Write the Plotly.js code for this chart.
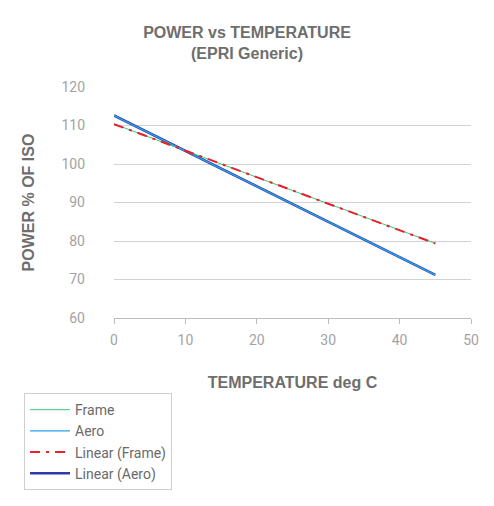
<!DOCTYPE html>
<html><head><meta charset="utf-8">
<script src="https://cdn.plot.ly/plotly-3.0.1.min.js"></script>
<style>html,body{margin:0;padding:0;background:#fff}#chart{width:494px;height:506px}</style>
</head><body><div id="chart"></div>
<script>
const temps = [0, 5, 10, 15, 20, 25, 30, 35, 40, 45];
const frame = [110.4, 106.9, 103.5, 100.0, 96.6, 93.1, 89.7, 86.2, 82.8, 79.4];
const aero  = [112.6, 108.0, 103.4, 98.8, 94.2, 89.6, 85.0, 80.4, 75.8, 71.2];
const seriesNames = ['Frame', 'Aero', 'Linear (Frame)', 'Linear (Aero)'];

function linfit(x, y) {
  const n = x.length;
  const mx = x.reduce((a, b) => a + b, 0) / n;
  const my = y.reduce((a, b) => a + b, 0) / n;
  let sxy = 0, sxx = 0;
  for (let i = 0; i < n; i++) { sxy += (x[i] - mx) * (y[i] - my); sxx += (x[i] - mx) ** 2; }
  const b = sxy / sxx, a = my - b * mx;
  return x.map(v => a + b * v);
}

const fontMain = '"Liberation Sans", Arial, sans-serif';
const traces = [
  {x: temps, y: linfit(temps, aero), name: seriesNames[3], legendrank: 4, mode: 'lines', line: {color: '#2f3aa8', width: 2.5}},
  {x: temps, y: frame, name: seriesNames[0], legendrank: 1, mode: 'lines', line: {color: '#3cc47c', width: 1}},
  {x: temps, y: aero, name: seriesNames[1], legendrank: 2, mode: 'lines', line: {color: '#2aa6e8', width: 1.3}},
  {x: temps, y: linfit(temps, frame), name: seriesNames[2], legendrank: 3, mode: 'lines', line: {color: '#e8202a', width: 2, dash: '10px,6px,3px,6px'}}
];
const layout = {
  width: 494, height: 506,
  margin: {l: 114, r: 23, t: 87, b: 188},
  paper_bgcolor: '#fff', plot_bgcolor: '#fff',
  title: {text: '<b>POWER vs TEMPERATURE<br>(EPRI Generic)</b>', x: 0.5, xanchor: 'center', y: 0.925, yanchor: 'top',
          font: {family: fontMain, size: 16, color: '#6e6e6e'}},
  xaxis: {range: [0, 50], dtick: 10, tick0: 0, showgrid: false, zeroline: false,
          showline: true, linecolor: '#bdbdbd', linewidth: 1, ticks: 'outside', ticklen: 5, tickcolor: '#bdbdbd',
          ticklabelstandoff: 4,
          tickfont: {family: 'Roboto, sans-serif', size: 14, color: '#a3a3a3'},
          title: {text: '<b>TEMPERATURE deg C</b>', standoff: 30, font: {family: fontMain, size: 16, color: '#6e6e6e'}}},
  yaxis: {range: [60, 120], dtick: 10, tick0: 60, showgrid: true, gridcolor: '#d2d2d2', gridwidth: 1, zeroline: false,
          showline: false, ticks: '', ticklabelstandoff: 28,
          tickfont: {family: 'Roboto, sans-serif', size: 14, color: '#a3a3a3'},
          title: {text: '<b>POWER % OF ISO</b>', standoff: 22, font: {family: fontMain, size: 16, color: '#6e6e6e'}}},
  showlegend: true,
  legend: {x: -0.252, xanchor: 'left', y: -0.745, yanchor: 'bottom',
           bgcolor: '#fff', bordercolor: '#cfcfcf', borderwidth: 1, itemwidth: 40,
           font: {family: 'Roboto, sans-serif', size: 14, color: '#6a6a6a'}}
};
Plotly.newPlot('chart', traces, layout, {displayModeBar: false, staticPlot: true});
</script></body></html>
